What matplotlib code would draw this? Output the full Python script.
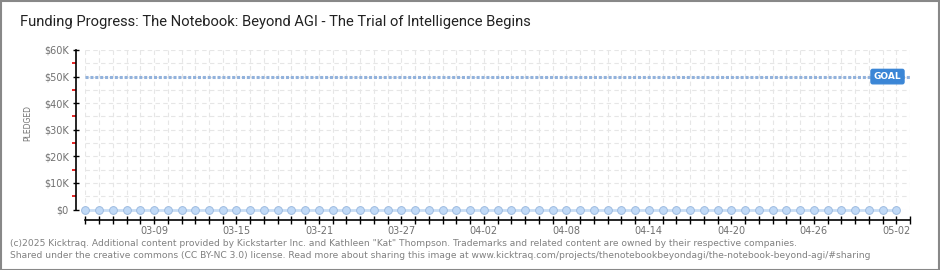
import matplotlib.pyplot as plt
from matplotlib.ticker import MultipleLocator, FixedLocator, FuncFormatter

# -----------------------------------
# Data
# -----------------------------------

title = "Funding Progress: The Notebook: Beyond AGI - The Trial of Intelligence Begins"
goal = 50000

# one point per day, 03-04 .. 05-02
days = list(range(60))
pledged = [0] * 60

label_days = [5, 11, 17, 23, 29, 35, 41, 47, 53, 59]
label_text = ["03-09", "03-15", "03-21", "03-27", "04-02",
              "04-08", "04-14", "04-20", "04-26", "05-02"]

y_ticks = [0, 10000, 20000, 30000, 40000, 50000, 60000]

footer1 = ("(c)2025 Kicktraq. Additional content provided by Kickstarter Inc. and Kathleen "
           "\"Kat\" Thompson. Trademarks and related content are owned by their respective companies.")
footer2 = ("Shared under the creative commons (CC BY-NC 3.0) license. Read more about sharing "
           "this image at www.kicktraq.com/projects/thenotebookbeyondagi/the-notebook-beyond-agi/#sharing")

# -----------------------------------
# Figure
# -----------------------------------

W, H = 940, 270
fig = plt.figure(figsize=(W / 100, H / 100), dpi=100)
fig.patch.set_facecolor("white")

x0, x1 = 85.3, 910
y_top, y_bot = 50, 209.5
ax = fig.add_axes([x0 / W, 1 - y_bot / H, (x1 - x0) / W, (y_bot - y_top) / H])
ax.set_xlim(0, 60)
ax.set_ylim(0, 60000)

# grid
ax.xaxis.set_minor_locator(MultipleLocator(1))
ax.yaxis.set_minor_locator(MultipleLocator(5000))
ax.grid(True, which="both", color="#e6e6e6", linestyle=(0, (4, 3)), linewidth=0.8)
ax.set_axisbelow(True)

# goal line
ax.plot([0, 60], [goal, goal], color="#92b2dc", linewidth=2.2,
        linestyle=(0, (1.0, 0.6)), zorder=3)
ax.text((887.5 - x0) / (x1 - x0) * 60, goal, "GOAL",
        color="white", fontsize=6.5, fontweight="bold", ha="center", va="center",
        zorder=5,
        bbox=dict(boxstyle="round,pad=0.3,rounding_size=0.2", fc="#3b86d6", ec="#3b86d6"))

# pledged line
ax.plot(days, pledged, color="#c8ddf4", linewidth=2, zorder=4, clip_on=False)
ax.plot(days, pledged, linestyle="none", marker="o", markersize=5.6,
        markerfacecolor="#c0d9f6", markeredgecolor="#9dbbe0", markeredgewidth=0.7,
        zorder=5, clip_on=False)

# spines
for s in ["top", "right"]:
    ax.spines[s].set_visible(False)
ax.spines["left"].set_position(("outward", 6.5))
ax.spines["bottom"].set_position(("outward", 7.6))
ax.spines["left"].set_linewidth(1.2)
ax.spines["bottom"].set_linewidth(1.2)

ax.set_xticks(days + [60])
ax.set_xticklabels([label_text[label_days.index(d)] if d in label_days else ""
                    for d in days + [60]])
ax.tick_params(axis="x", which="major", direction="inout", length=6, width=1,
               color="black", labelsize=7, labelcolor="#707070", pad=1)
ax.tick_params(axis="x", which="minor", length=0)

ax.yaxis.set_major_locator(FixedLocator(y_ticks))
ax.yaxis.set_major_formatter(FuncFormatter(lambda v, p: "$0" if v == 0 else f"${int(v / 1000)}K"))
ax.tick_params(axis="y", which="major", direction="inout", length=5, width=1,
               color="black", labelsize=7, labelcolor="#707070", pad=3)
ax.tick_params(axis="y", which="minor", direction="out", length=3, width=1.2, color="#e00000")

fig.text(28 / W, 1 - 123 / H, "PLEDGED", rotation=90, fontsize=5.5,
         color="#707070", ha="center", va="center")

# title and footer
fig.text(20 / W, 1 - 22 / H, title, fontsize=10.6, color="#222222",
         family=["Roboto", "DejaVu Sans"], ha="left", va="center")
fig.text(10 / W, 1 - 243 / H, footer1, fontsize=6.6, color="#808080", ha="left", va="center")
fig.text(10 / W, 1 - 256 / H, footer2, fontsize=6.6, color="#808080", ha="left", va="center")

# border
fig.add_artist(plt.Rectangle((0.5 / W, 0.5 / H), 1 - 1.5 / W, 1 - 1.5 / H,
                             transform=fig.transFigure, fill=False,
                             edgecolor="#888888", linewidth=1.5))

fig.savefig("out.png", dpi=100)
